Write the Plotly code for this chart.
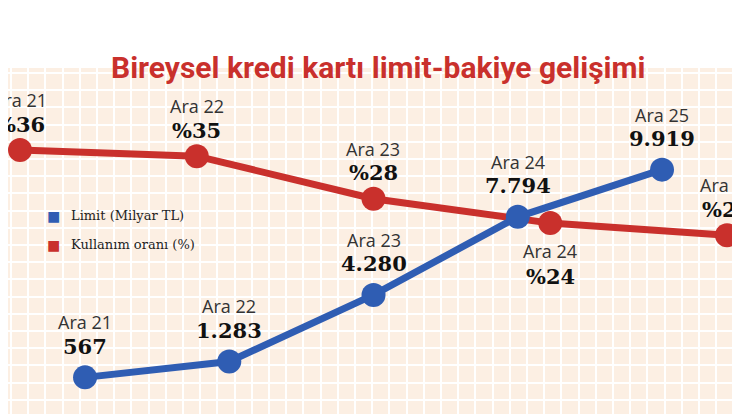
import plotly.graph_objects as go

periods = ["Ara 21", "Ara 22", "Ara 23", "Ara 24", "Ara 25"]
limit_vals = [567, 1283, 4280, 7794, 9919]
limit_labels = ["567", "1.283", "4.280", "7.794", "9.919"]
usage_vals = [36, 35, 28, 24, 22]
usage_labels = ["%36", "%35", "%28", "%24", "%22"]

RED = "#c9302c"
BLUE = "#2f5db3"
BG = "#fcefe3"
DOM = [0, 354 / 414]

fig = go.Figure()
# grid carrier (primary axes)
fig.add_trace(go.Scatter(x=[0], y=[0], mode="markers", marker=dict(opacity=0),
                         showlegend=False, hoverinfo="skip"))
fig.add_trace(go.Scatter(x=periods, y=usage_vals, xaxis="x2", yaxis="y2", mode="lines+markers",
                         line=dict(color=RED, width=7), marker=dict(color=RED, size=24),
                         showlegend=False))
fig.add_trace(go.Scatter(x=periods, y=limit_vals, xaxis="x3", yaxis="y3", mode="lines+markers",
                         line=dict(color=BLUE, width=7), marker=dict(color=BLUE, size=24),
                         showlegend=False))

ann = []
name_font = dict(family="Open Sans", size=18, color="#333333")
val_font = dict(family="DejaVu Serif", size=21, color="#111111")
for i, p in enumerate(periods):
    below = (p == "Ara 24")
    ann.append(dict(x=p, y=usage_vals[i], xref="x2", yref="y2", text=p, showarrow=False,
                    font=name_font, yshift=(50 if not below else -28)))
    ann.append(dict(x=p, y=usage_vals[i], xref="x2", yref="y2", text="<b>%s</b>" % usage_labels[i],
                    showarrow=False, font=val_font, yshift=(26 if not below else -53)))
    ann.append(dict(x=p, y=limit_vals[i], xref="x3", yref="y3", text=p, showarrow=False,
                    font=name_font, yshift=55))
    ann.append(dict(x=p, y=limit_vals[i], xref="x3", yref="y3", text="<b>%s</b>" % limit_labels[i],
                    showarrow=False, font=val_font, yshift=31))

leg_font = dict(family="DejaVu Serif", size=13, color="#222222")
for yy, col, txt in [(207, BLUE, "Limit (Milyar TL)"), (236, RED, "Kullanım oranı (%)")]:
    ann.append(dict(x=37 / 740, y=1 - yy / 414, xref="paper", yref="paper",
                    text="<span style='color:%s'>■</span>" % col,
                    showarrow=False, xanchor="left", font=dict(size=22)))
    ann.append(dict(x=61 / 740, y=1 - yy / 414, xref="paper", yref="paper", text=txt,
                    showarrow=False, xanchor="left", font=leg_font))
ann.append(dict(x=0.5, y=1 - 40 / 414, xref="paper", yref="paper",
                text="<b>Bireysel kredi kartı limit-bakiye gelişimi</b>",
                showarrow=False, font=dict(family="Roboto", size=30, color=RED)))

hidden = dict(showgrid=False, zeroline=False, showticklabels=False, ticks="", showline=False)
fig.update_layout(
    width=740, height=414, margin=dict(l=0, r=0, t=0, b=0),
    paper_bgcolor="white", plot_bgcolor=BG,
    xaxis=dict(range=[0, 740], dtick=17.2, tick0=3, showgrid=True, gridcolor="white", gridwidth=2,
               zeroline=False, showticklabels=False, ticks=""),
    yaxis=dict(range=[354, 0], dtick=17.2, tick0=5, showgrid=True, gridcolor="white", gridwidth=2,
               zeroline=False, showticklabels=False, ticks="", domain=DOM),
    xaxis2=dict(hidden, type="category", range=[-0.068, 4.119], overlaying="x"),
    yaxis2=dict(hidden, range=[-8.7, 49.5], overlaying="y"),
    xaxis3=dict(hidden, type="category", range=[-0.534, 4.596], overlaying="x"),
    yaxis3=dict(hidden, range=[-1442, 14494], overlaying="y"),
    annotations=ann,
)
fig.write_html("out.html")
